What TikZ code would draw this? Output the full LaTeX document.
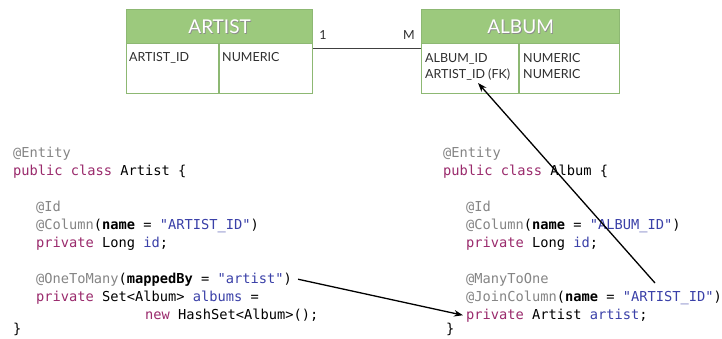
\documentclass[tikz,border=0pt]{standalone}
\usepackage{fontspec}
\setmainfont{Lato}
\setmonofont{DejaVu Sans Mono}
\usetikzlibrary{arrows.meta,calc}
\definecolor{kw}{HTML}{9A2A6C}
\definecolor{ann}{HTML}{858585}
\definecolor{str}{HTML}{3A40A8}
\definecolor{hdr}{HTML}{9CC97D}
\definecolor{bdr}{HTML}{8DB873}
\definecolor{celltxt}{HTML}{2E2E2E}
\begin{document}
\begin{tikzpicture}[x=1pt,y=-1pt,
 code/.style={anchor=base west, inner sep=0pt, font=\ttfamily\fontsize{13.7}{16}\selectfont},
 cell/.style={anchor=base west, inner sep=0pt, font=\fontsize{12.5}{14}\selectfont, text=celltxt},
 hdrtext/.style={inner sep=0pt, font=\fontsize{19}{22}\selectfont},
 tbl/.style={draw=bdr, line width=1.2pt, anchor=north west, inner sep=0pt},
 card/.style={inner sep=0pt, font=\fontsize{12.5}{14}\selectfont, text=celltxt},
 arr/.style={-{Stealth[length=9pt,width=6.5pt]}, line width=1.3pt, black}
]
\useasboundingbox (0,0) rectangle (722,338);
\fill[white] (0,0) rectangle (722,338);

% ARTIST table
\node[tbl, fill=hdr, minimum width=186pt, minimum height=34pt] (arth) at (126,9) {};
\node[tbl, fill=white, minimum width=186pt, minimum height=50pt] (artb) at (126,43) {};
\draw[bdr, line width=1.2pt] (219,43) -- (219,93);
\node[hdrtext, text=black!45] at ($(arth.center)+(0.8,0.8)$) {ARTIST};
\node[hdrtext, text=white] (artt) at (arth.center) {ARTIST};
\node[cell] (artid) at (129,61) {ARTIST\_ID};
\node[cell] (artnum) at (222,61) {NUMERIC};

% ALBUM table
\node[tbl, fill=hdr, minimum width=198pt, minimum height=34pt] (albh) at (421,9) {};
\node[tbl, fill=white, minimum width=198pt, minimum height=50pt] (albb) at (421,43) {};
\draw[bdr, line width=1.2pt] (519,43) -- (519,93);
\node[hdrtext, text=black!45] at ($(albh.center)+(0.8,0.8)$) {ALBUM};
\node[hdrtext, text=white] (albt) at (albh.center) {ALBUM};
\node[cell] (albid) at (425,62) {ALBUM\_ID};
\node[cell] (albfk) at (425,78) {ARTIST\_ID (FK)};
\node[cell] (albnum1) at (523,62) {NUMERIC};
\node[cell] (albnum2) at (523,78) {NUMERIC};

% relation
\draw[black!75, line width=0.9pt] ([yshift=-5pt]artb.north east) -- ([yshift=-5pt]albb.north west);
\node[card] (one) at (323,35) {1};
\node[card] (many) at (409,35) {M};

% Artist code
\node[code] (a1) at (13,157) {\textcolor{ann}{@Entity}};
\node[code] (a2) at (13,175) {\textcolor{kw}{public class} Artist \{};
\node[code] (a3) at (36,211) {\textcolor{ann}{@Id}};
\node[code] (a4) at (36,229) {\textcolor{ann}{@Column}(\textbf{name} = \textcolor{str}{"ARTIST\_ID"})};
\node[code] (a5) at (36,247) {\textcolor{kw}{private} Long \textcolor{str}{id};};
\node[code] (a6) at (36,283) {\textcolor{ann}{@OneToMany}(\textbf{mappedBy} = \textcolor{str}{"artist"})};
\node[code] (a7) at (36,301) {\textcolor{kw}{private} Set<Album> \textcolor{str}{albums} =};
\node[code] (a8) at (145,319) {\textcolor{kw}{new} HashSet<Album>();};
\node[code] (a9) at (13,333) {\}};

% Album code
\node[code] (b1) at (443,157) {\textcolor{ann}{@Entity}};
\node[code] (b2) at (443,175) {\textcolor{kw}{public class} Album \{};
\node[code] (b3) at (466,211) {\textcolor{ann}{@Id}};
\node[code] (b4) at (466,229) {\textcolor{ann}{@Column}(\textbf{name} = \textcolor{str}{"ALBUM\_ID"})};
\node[code] (b5) at (466,247) {\textcolor{kw}{private} Long \textcolor{str}{id};};
\node[code] (b6) at (466,283) {\textcolor{ann}{@ManyToOne}};
\node[code] (b7) at (466,301) {\textcolor{ann}{@JoinColumn}(\textbf{name} = \textcolor{str}{"ARTIST\_ID"})};
\node[code] (b8) at (466,319) {\textcolor{kw}{private} Artist \textcolor{str}{artist};};
\node[code] (b9) at (446,333) {\}};

% arrows
\coordinate (s1) at ($(a6.east)+(6,0)$);
\coordinate (e1) at ($(b8.west)+(-3,0)$);
\draw[arr] (s1) -- (e1);
\coordinate (s2) at ($(b7.base west)+(189,-18)$);
\coordinate (e2) at ($(albfk.base west)+(53,5)$);
\draw[arr] (s2) -- (e2);
\end{tikzpicture}
\end{document}
